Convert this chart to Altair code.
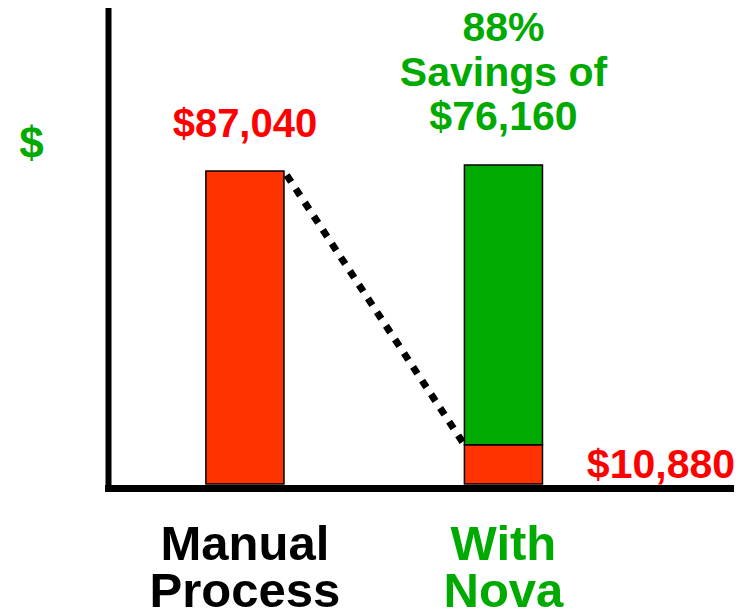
import altair as alt
import pandas as pd

# ---- data ----
categories = ["Manual Process", "With Nova"]
segment_cat = ["Manual Process", "With Nova", "With Nova"]
segment_start = [0, 0, 10880]
segment_end = [87040, 10880, 88700]
segment_kind = ["cost", "cost", "savings"]

manual_cost = 87040
nova_cost = 10880
nova_top = 88700

label_manual = "$87,040"
label_savings = "88%\nSavings of\n$76,160"
label_nova = "$10,880"

# ---- styles ----
FONT = "Liberation Sans"
BAR_RED = "#FF3300"
BAR_GREEN = "#00AA00"
TEXT_RED = "#FF0000"
TEXT_GREEN = "#00AA00"

bars_df = pd.DataFrame({"cat": segment_cat, "val": segment_start,
                        "val2": segment_end, "kind": segment_kind})
rule_df = pd.DataFrame({"cat": [categories[0]], "cat2": [categories[1]],
                        "val": [manual_cost], "val2": [nova_cost]})
t_manual = pd.DataFrame({"cat": [categories[0]], "val": [manual_cost], "label": [label_manual]})
t_save = pd.DataFrame({"cat": [categories[1]], "val": [nova_top], "label": [label_savings]})
t_nova = pd.DataFrame({"cat": [categories[1]], "val": [nova_cost], "label": [label_nova]})

x_scale = alt.Scale(domain=categories, paddingInner=0.698, paddingOuter=0.552, align=0.343)
y_scale = alt.Scale(domain=[0, 131800], nice=False, zero=True)

x_axis = alt.Axis(
    title=None, labelExpr="split(datum.label, ' ')", labelAngle=0,
    labelFont=FONT, labelFontSize=49, labelFontWeight="bold",
    labelColor={"expr": "datum.value == 'With Nova' ? '#00AA00' : '#000000'"},
    labelLineHeight=47, labelPadding=32, labelBaseline="top", labelLimit=0,
    ticks=False, tickSize=0, grid=False,
    domainWidth=7, domainColor="black", domainCap="square", offset=4,
    labelOverlap=False, labelBound=False, labelFlush=False,
)
y_axis = alt.Axis(
    title="$", titleAngle=0, titleX=-77, titleY=134, titleAlign="center",
    titleBaseline="middle", titleColor=TEXT_GREEN, titleFontSize=44,
    titleFont=FONT, titleFontWeight="bold",
    labels=False, ticks=False, grid=False,
    domainWidth=6, domainColor="black", domainCap="square",
)


def xenc(**kw):
    return alt.X("cat:N", scale=x_scale, sort=categories, axis=x_axis, **kw)


def yenc():
    return alt.Y("val:Q", scale=y_scale, axis=y_axis)


bars = alt.Chart(bars_df).mark_bar(stroke="black", strokeWidth=1.5).encode(
    x=xenc(),
    y=yenc(),
    y2="val2:Q",
    color=alt.Color("kind:N", scale=alt.Scale(domain=["cost", "savings"],
                                              range=[BAR_RED, BAR_GREEN]), legend=None),
)

connector = alt.Chart(rule_df).mark_rule(
    color="black", strokeWidth=7, strokeDash=[8, 8.4], strokeDashOffset=11.4,
    strokeCap="butt"
).encode(
    x=xenc(bandPosition=1),
    x2=alt.X2("cat2:N", bandPosition=0),
    y=yenc(),
    y2="val2:Q",
)

text_manual = alt.Chart(t_manual).mark_text(
    font=FONT, fontSize=40, fontWeight="bold", color=TEXT_RED,
    baseline="alphabetic", align="center", dy=-34,
).encode(x=xenc(), y=yenc(), text="label:N")

text_save = alt.Chart(t_save).mark_text(
    font=FONT, fontSize=41, fontWeight="bold", color=TEXT_GREEN,
    baseline="alphabetic", align="center", dy=-124, lineBreak="\n", lineHeight=44.5,
).encode(x=xenc(), y=yenc(), text="label:N")

text_nova = alt.Chart(t_nova).mark_text(
    font=FONT, fontSize=41, fontWeight="bold", color=TEXT_RED,
    baseline="alphabetic", align="center", dx=157.5, dy=33,
).encode(x=xenc(), y=yenc(), text="label:N")

chart = alt.layer(bars, connector, text_manual, text_save, text_nova).properties(
    width=622, height=474,
    autosize=alt.AutoSizeParams(type="none"),
    padding={"left": 100, "top": 2, "right": 8, "bottom": 125},
    background="white",
).configure_view(stroke=None)

chart.save("out.html", embed_options={"renderer": "svg", "actions": False})
